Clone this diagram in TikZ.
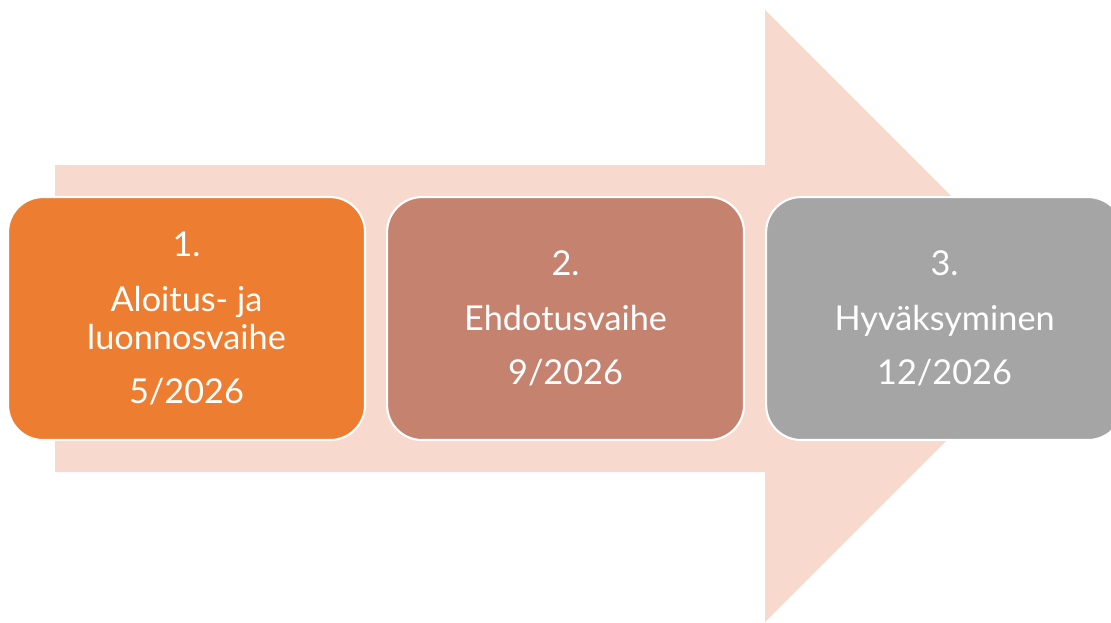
\documentclass[tikz,border=0pt]{standalone}
\usepackage{fontspec}
\setmainfont{Lato}
\usetikzlibrary{positioning}
\definecolor{arrowpink}{HTML}{F8D9CE}
\definecolor{phaseorange}{HTML}{ED7D31}
\definecolor{phasebrown}{HTML}{C5826F}
\definecolor{phasegray}{HTML}{A5A5A5}
\tikzstyle{phase} = [draw=white, line width=1.2pt, rounded corners=0.7cm,
    minimum width=7.14cm, minimum height=4.86cm, text=white, align=center,
    font=\fontsize{19.5}{21.6}\selectfont, node distance=0.4cm]

\begin{document}
\begin{tikzpicture}[x=0.02cm, y=-0.02cm]
  \useasboundingbox (0,0) rectangle (1111,622);
  \clip (0,0) rectangle (1111,622);
  % Big arrow behind
  \fill[arrowpink] (55,165) -- (765,165) -- (765,10) -- (1071,316)
    -- (765,622) -- (765,472) -- (55,472) -- cycle;
  % Place nodes
  \node [phase, fill=phaseorange, anchor=north west] (p1) at (7,196)
  {1.\\[9.5pt] Aloitus- ja\\ luonnosvaihe\\[9.5pt] 5/2026};
  \node [phase, fill=phasebrown, right=of p1] (p2)
  {2.\\[9.5pt] Ehdotusvaihe\\[9.5pt] 9/2026};
  \node [phase, fill=phasegray, right=of p2] (p3)
  {3.\\[9.5pt] Hyväksyminen\\[9.5pt] 12/2026};
\end{tikzpicture}
\end{document}
